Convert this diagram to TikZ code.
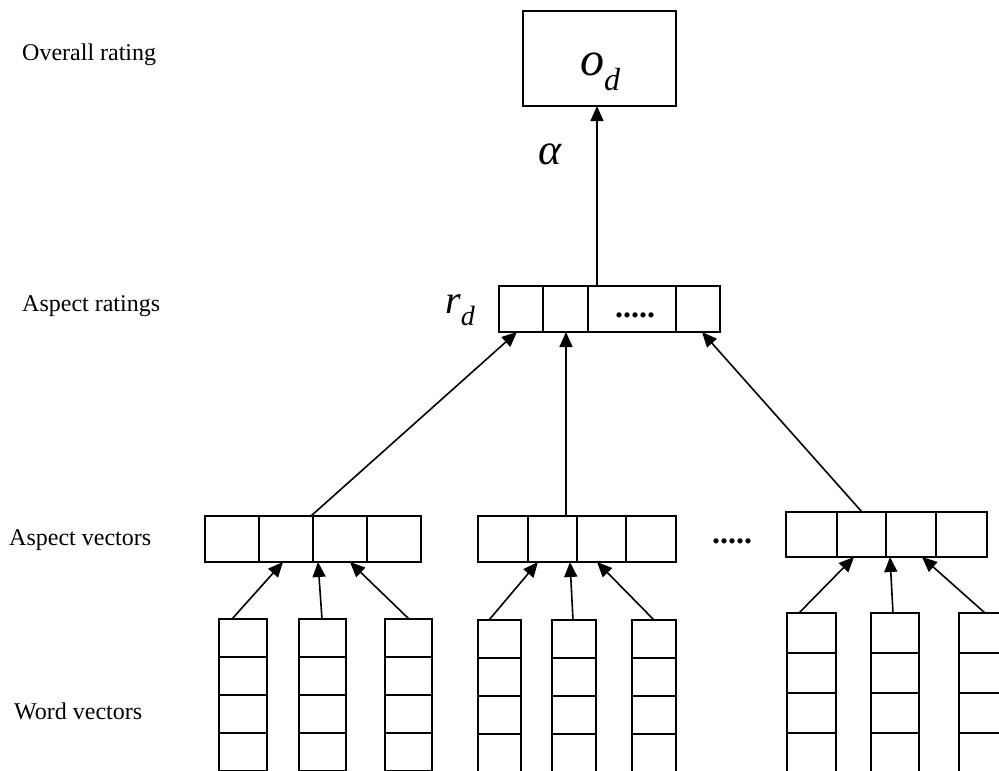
\documentclass[tikz,border=0pt]{standalone}
\usepackage{fontspec}
\setmainfont{Liberation Serif}
\usetikzlibrary{arrows.meta}
\newcommand{\wordcol}[5]{% name, left, right, top, cell height
  \foreach \r in {0,...,4}{\node[box,minimum width={#3pt-#2pt},minimum height={#5pt}] (#1-\r) at (#2,{#4+\r*#5}) {};}}
\newcommand{\barcells}[4]{% name, top, bottom, list of left/right pairs
  \foreach \a/\b [count=\i] in {#4}{\node[box,minimum width={\b pt-\a pt},minimum height={#3pt-#2pt}] (#1-\i) at (\a,#2) {};}}
\begin{document}
\begin{tikzpicture}[x=1pt,y=-1pt,
  box/.style={draw,line width=1.6pt,inner sep=0pt,outer sep=0pt,anchor=north west},
  arr/.style={line width=1.6pt,-{Triangle[length=15pt,width=13pt]}},
  lbl/.style={font=\fontsize{24}{28}\selectfont,anchor=west,inner sep=0pt},
  dotsl/.style={inner sep=0pt,font=\fontsize{32}{34}\selectfont\bfseries}]
\useasboundingbox (0,0) rectangle (999,771);
\clip (0,0) rectangle (999,771);

% row labels
\node[lbl] (l1) at (22,55) {Overall rating};
\node[lbl] (l2) at (22,306) {Aspect ratings};
\node[lbl] (l3) at (9,540) {Aspect vectors};
\node[lbl] (l4) at (14,711) {Word vectors};

% overall rating box
\node[box,minimum width=153pt,minimum height=95pt] (od) at (523,11) {};
\node[anchor=base west,inner sep=0pt] (odt) at (580,75)
  {\fontsize{48}{50}\selectfont\itshape o\raisebox{-15pt}{\fontsize{32}{34}\selectfont d}};
\node[anchor=base west,inner sep=0pt] (alpha) at (538,164)
  {\fontsize{44}{46}\selectfont\itshape α};

% aspect ratings
\barcells{r}{286}{332}{499/543,543/588,588/676,676/720}
\node[dotsl] (rdots) at (635,315) {.....};
\node[anchor=base west,inner sep=0pt] (rd) at (445,313)
  {\fontsize{40}{42}\selectfont\itshape r\raisebox{-12pt}{\fontsize{28}{30}\selectfont d}};

% aspect vectors
\barcells{a1}{516}{562}{205/259,259/313,313/367,367/421}
\barcells{a2}{516}{562}{478/528,528/577,577/626,626/676}
\barcells{a3}{512}{557}{786/837,837/886,886/936,936/987}
\node[dotsl] (adots) at (732,541) {.....};

% word vectors
\wordcol{w11}{219}{267}{619}{38}
\wordcol{w12}{299}{346}{619}{38}
\wordcol{w13}{385}{432}{619}{38}
\wordcol{w21}{478}{521}{620}{38}
\wordcol{w22}{552}{596}{620}{38}
\wordcol{w23}{632}{676}{620}{38}
\wordcol{w31}{787}{836}{613}{40}
\wordcol{w32}{871}{919}{613}{40}
\wordcol{w33}{959}{1007}{613}{40}

% word -> aspect vectors
\draw[arr] ([xshift=13pt]w11-0.north west) -- ([xshift=24pt]a1-2.south west);
\draw[arr] ([xshift=23pt]w12-0.north west) -- ([xshift=5pt]a1-3.south west);
\draw[arr] ([xshift=24pt]w13-0.north west) -- ([xshift=37pt]a1-3.south west);
\draw[arr] ([xshift=11pt]w21-0.north west) -- ([xshift=10pt]a2-2.south west);
\draw[arr] ([xshift=21pt]w22-0.north west) -- ([xshift=42pt]a2-2.south west);
\draw[arr] ([xshift=22pt]w23-0.north west) -- ([xshift=20pt]a2-3.south west);
\draw[arr] ([xshift=12pt]w31-0.north west) -- ([xshift=17pt]a3-2.south west);
\draw[arr] ([xshift=22pt]w32-0.north west) -- ([xshift=4pt]a3-3.south west);
\draw[arr] ([xshift=26pt]w33-0.north west) -- ([xshift=36pt]a3-3.south west);

% aspect vectors -> aspect ratings
\draw[arr] ([xshift=-2pt]a1-3.north west) -- ([xshift=18pt]r-1.south west);
\draw[arr] ([xshift=38pt]a2-2.north west) -- ([xshift=23pt]r-2.south west);
\draw[arr] ([xshift=25pt]a3-2.north west) -- ([xshift=26pt]r-4.south west);

% aspect ratings -> overall rating
\draw[arr] ([xshift=9pt]r-3.north west) -- ([xshift=74pt]od.south west);
\end{tikzpicture}
\end{document}
